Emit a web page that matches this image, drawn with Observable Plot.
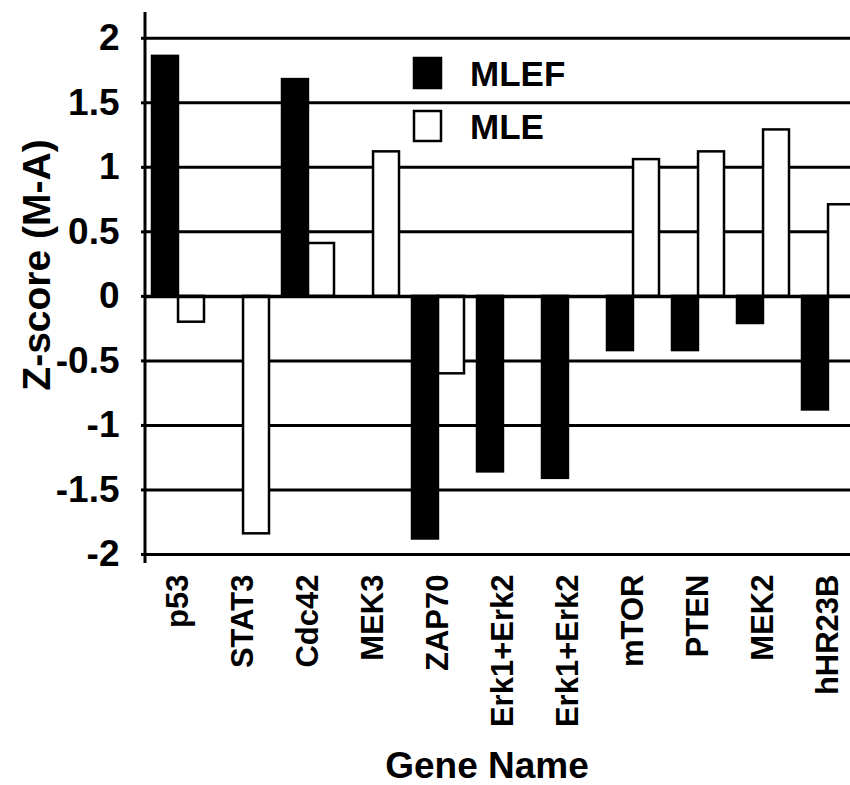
<!DOCTYPE html>
<html><head><meta charset="utf-8">
<script src="https://cdn.jsdelivr.net/npm/d3@7"></script>
<script src="https://cdn.jsdelivr.net/npm/@observablehq/plot@0.6"></script>
<style>
html,body{margin:0;padding:0;background:#fff;overflow:hidden;}
#chart{width:850px;height:785px;overflow:hidden;}
</style></head><body><div id="chart"></div>
<script>
const genes = ["p53","STAT3","Cdc42","MEK3","ZAP70","Erk1+Erk2","Erk1+Erk2","mTOR","PTEN","MEK2","hHR23B"];
const mlef = [1.86, 0, 1.68, 0, -1.88, -1.36, -1.41, -0.42, -0.42, -0.21, -0.88];
const mle  = [-0.2, -1.84, 0.41, 1.12, -0.6, 0, 0, 1.06, 1.12, 1.29, 0.71];
const yTicks = [-2, -1.5, -1, -0.5, 0, 0.5, 1, 1.5, 2];
const seriesNames = ["MLEF", "MLE"];
const seriesFill = ["black", "white"];
const yLabel = "Z-score (M-A)";
const xLabel = "Gene Name";

const W = 850, H = 785, mL = 145, mR = -11, mT = 12, mB = 222;
const padIn = 0.2, padOut = 0.1;
const step = (W - mR - mL) / (genes.length - padIn + 2 * padOut);
const half = step * (1 - padIn) / 2;

const rowsF = mlef.map((v, i) => ({i, v})).filter(d => d.v !== 0);
const rowsE = mle.map((v, i) => ({i, v})).filter(d => d.v !== 0);
const font = "'Liberation Sans', Arial, Helvetica, sans-serif";

const plot = Plot.plot({
  width: W, height: H,
  marginLeft: mL, marginRight: mR, marginTop: mT, marginBottom: mB,
  style: {fontFamily: font, fontWeight: "bold", color: "black", background: "white", overflow: "hidden"},
  x: {type: "band", domain: d3.range(genes.length), paddingInner: padIn, paddingOuter: padOut},
  y: {domain: [-2.07, 2.2]},
  marks: [
    Plot.ruleY(yTicks, {stroke: "black", strokeWidth: 3}),
    Plot.barY(rowsF, {x: "i", y: "v", fill: seriesFill[0], stroke: "black", strokeWidth: 2.5, insetRight: half}),
    Plot.barY(rowsE, {x: "i", y: "v", fill: seriesFill[1], stroke: "black", strokeWidth: 2.5, insetLeft: half}),
    Plot.ruleY([0], {stroke: "black", strokeWidth: 3.5}),
    Plot.axisY(yTicks, {tickFormat: d => String(d), tickSize: 4, tickPadding: 22, fontSize: 37, fontWeight: "bold", label: null, strokeWidth: 3}),
    Plot.axisX({tickFormat: i => genes[i], tickRotate: -90, tickSize: 0, tickPadding: 11, fontSize: 31, fontWeight: "bold", label: null})
  ]
});

const svg = d3.select(plot);
const xr = plot.scale("x").range, yr = plot.scale("y").range;
svg.append("line").attr("x1", xr[0]).attr("x2", xr[0]).attr("y1", Math.min(...yr)).attr("y2", Math.max(...yr))
  .attr("stroke", "black").attr("stroke-width", 3);

svg.append("text").text(yLabel)
  .attr("transform", "translate(50,265) rotate(-90)")
  .attr("text-anchor", "middle").attr("font-size", 39).attr("font-weight", "bold").attr("font-family", font).attr("fill", "black");
svg.append("text").text(xLabel)
  .attr("x", 487).attr("y", 778)
  .attr("text-anchor", "middle").attr("font-size", 37).attr("font-weight", "bold").attr("font-family", font).attr("fill", "black");

const leg = svg.append("g");
seriesNames.forEach((name, k) => {
  const y0 = k === 0 ? 58 : 111;
  leg.append("rect").attr("x", 414).attr("y", y0).attr("width", 27).attr("height", 30)
    .attr("fill", seriesFill[k]).attr("stroke", "black").attr("stroke-width", 2.5);
  leg.append("text").text(name).attr("x", 470).attr("y", y0 + 28)
    .attr("text-anchor", "start")
    .attr("font-size", 35).attr("font-weight", "bold").attr("font-family", font).attr("fill", "black");
});

document.getElementById("chart").appendChild(plot);
</script>
</body></html>
